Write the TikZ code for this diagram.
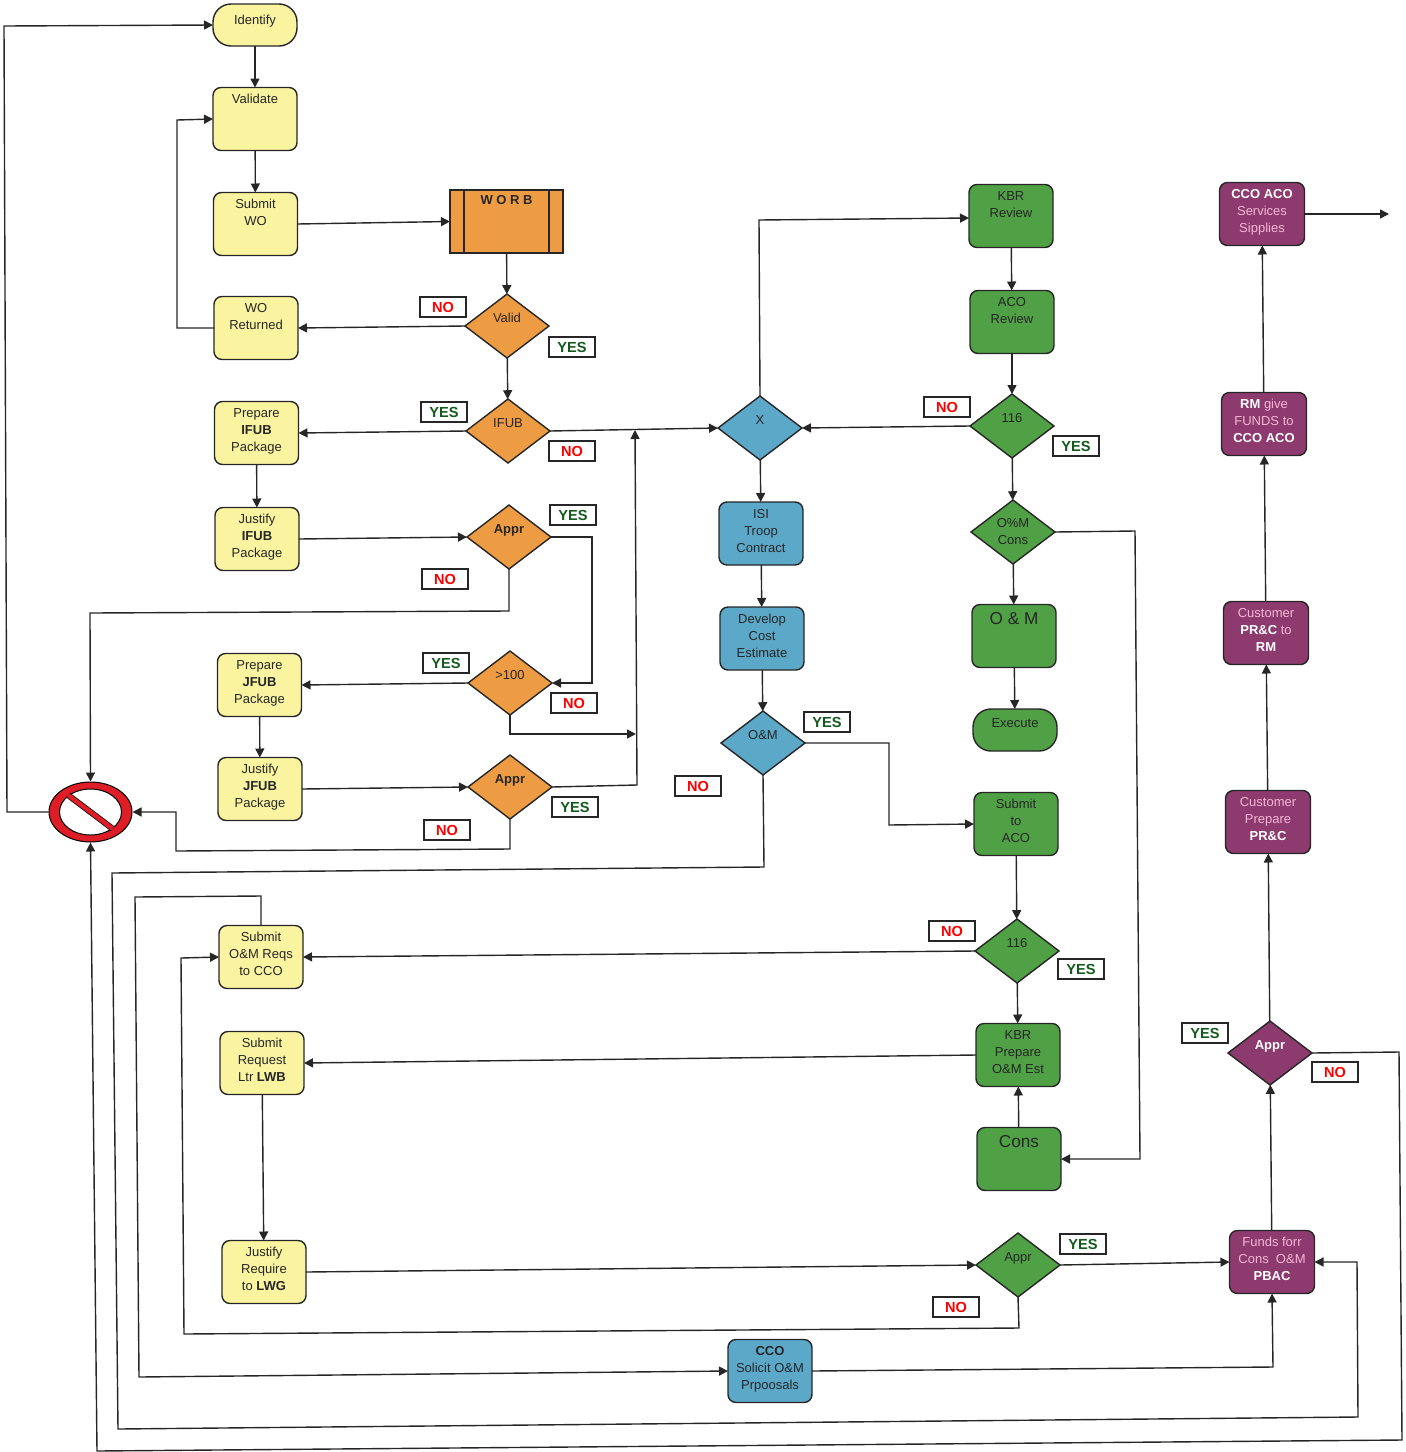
\documentclass[tikz,border=0pt]{standalone}
\usepackage{fontspec}
\setmainfont{Liberation Sans}
\usetikzlibrary{arrows.meta, positioning, shapes.geometric}
\definecolor{boxyellow}{RGB}{250,244,160}
\definecolor{boxorange}{RGB}{238,156,68}
\definecolor{boxblue}{RGB}{92,168,201}
\definecolor{boxgreen}{RGB}{80,160,70}
\definecolor{boxpurple}{RGB}{141,58,111}
\definecolor{textpink}{RGB}{247,182,214}
\definecolor{noentry}{RGB}{222,30,38}
\definecolor{yesgreen}{RGB}{20,90,30}
\begin{document}
\begin{tikzpicture}[
  x=.5pt, y=-.5pt,
  smalltext/.style={font=\fontsize{6.5}{8.5}\selectfont, text=black!85},
  flowbox/.style={rectangle, rounded corners=4pt, draw=black!85, line width=.7pt, inner sep=0pt, outer sep=0pt,
                  minimum width=42pt, minimum height=31.5pt, align=center, smalltext, text depth=3pt},
  pill/.style={flowbox, rounded corners=9pt, minimum height=21pt, text depth=5pt},
  choice/.style={diamond, draw=black!85, line width=.7pt, inner sep=0pt, outer sep=0pt,
                 minimum width=42pt, minimum height=32pt, align=center, smalltext, text depth=8pt},
  yellowbox/.style={flowbox, fill=boxyellow},
  bluebox/.style={flowbox, fill=boxblue},
  greenbox/.style={flowbox, fill=boxgreen},
  purplebox/.style={flowbox, fill=boxpurple, text=textpink, minimum width=42.5pt},
  bigbox/.style={greenbox, font=\fontsize{8.6}{10}\selectfont, text depth=18pt},
  yestag/.style={rectangle, draw=black!85, line width=.6pt, fill=white, minimum width=23pt, minimum height=10pt,
                 inner sep=0pt, font=\fontsize{7.3}{9}\selectfont\bfseries, text=yesgreen},
  notag/.style={yestag, text=red},
  arrow/.style={-{Triangle[length=4.5pt,width=4.5pt]}, line width=.7pt, black!85},
  plain/.style={line width=.7pt, black!85}
]
\useasboundingbox (0,0) rectangle (1405,1452);

\node[pill, fill=boxyellow] (identify) at (255,25) {Identify};
\node[yellowbox] (validate) at (255,119) {Validate\\~\\~};
\node[yellowbox, below=21pt of validate, xshift=.25pt] (submitwo) {Submit\\WO\\~};
\node[yellowbox, below=20.5pt of submitwo, xshift=.25pt] (woreturned) {WO\\Returned\\~};
\node[yellowbox, below=21pt of woreturned, xshift=.25pt] (prepifub) {Prepare\\\textbf{IFUB}\\Package};
\node[yellowbox, below=21.5pt of prepifub, xshift=.25pt] (justifub) {Justify\\\textbf{IFUB}\\Package};
\node[yellowbox] (prepjfub) at (259.5,685) {Prepare\\\textbf{JFUB}\\Package};
\node[yellowbox, below=20.5pt of prepjfub, xshift=.25pt] (justjfub) {Justify\\\textbf{JFUB}\\Package};
\node[yellowbox] (submitom) at (261,957) {Submit\\O\&M Reqs\\to CCO};
\node[yellowbox, below=21.5pt of submitom, xshift=.5pt] (submitreq) {Submit\\Request\\Ltr \textbf{LWB}};
\node[yellowbox, below=73pt of submitreq, xshift=1pt] (justreq) {Justify\\Require\\to \textbf{LWG}};

\node[rectangle, draw=black!85, line width=.7pt, fill=boxorange, inner sep=0pt, outer sep=0pt, minimum width=56.5pt, minimum height=31.5pt,
      font=\fontsize{6.5}{8}\selectfont\bfseries, text=black!85, text depth=22pt] (worb) at (506.5,221.5) {W O R B};
\draw[plain] ([xshift=7pt]worb.north west) -- ([xshift=7pt]worb.south west);
\draw[plain] ([xshift=-7pt]worb.north east) -- ([xshift=-7pt]worb.south east);
\node[choice, fill=boxorange] (valid) at (507,326) {Valid};
\node[choice, fill=boxorange, below=20.5pt of valid, xshift=.5pt] (ifub) {IFUB};
\node[choice, fill=boxorange, below=21pt of ifub, xshift=.5pt] (apprifub) {\textbf{Appr}};
\node[choice, fill=boxorange] (over100) at (510,683) {>100};
\node[choice, fill=boxorange, below=20pt of over100] (apprjfub) {\textbf{Appr}};

\node[choice, fill=boxblue] (xdec) at (760,428) {X};
\node[bluebox, below=21pt of xdec, xshift=.5pt] (troop) {ISI\\Troop\\Contract};
\node[bluebox, below=21pt of troop, xshift=.5pt] (estimate) {Develop\\Cost\\Estimate};
\node[choice, fill=boxblue, below=20.5pt of estimate, xshift=.5pt] (omdec) {O\&M};
\node[bluebox] (solicit) at (770,1371) {\textbf{CCO}\\Solicit O\&M\\Prpoosals};

\node[greenbox] (kbrreview) at (1011,216) {KBR\\Review\\~};
\node[greenbox, below=21.5pt of kbrreview, xshift=.5pt] (acoreview) {ACO\\Review\\~};
\node[choice, fill=boxgreen, below=20.25pt of acoreview] (first116) {116};
\node[choice, fill=boxgreen, below=21pt of first116, xshift=.5pt, text depth=] (omcons) {O\%M\\Cons};
\node[bigbox, below=20.25pt of omcons, xshift=.5pt] (ombox) {O \& M};
\node[pill, fill=boxgreen, below=20.75pt of ombox, xshift=.5pt, text depth=7pt] (execute) {Execute};
\node[greenbox] (submitaco) at (1016,824) {Submit\\to\\ACO};
\node[choice, fill=boxgreen, below=31.75pt of submitaco, xshift=.5pt] (second116) {116};
\node[greenbox, below=20.25pt of second116, xshift=.5pt] (kbrprep) {KBR\\Prepare\\O\&M Est};
\node[bigbox, below=20.5pt of kbrprep, xshift=.5pt] (consbox) {Cons};
\node[choice, fill=boxgreen, below=21.25pt of consbox, xshift=-.5pt] (apprcons) {Appr};

\node[purplebox] (funds) at (1272,1262) {Funds forr\\Cons~~O\&M\\\textcolor{white}{\textbf{PBAC}}};
\node[choice, fill=boxpurple, text=white] (apprpbac) at (1270,1053) {\textbf{Appr}};
\node[purplebox] (prepprc) at (1268,822) {Customer\\Prepare\\\textcolor{white}{\textbf{PR\&C}}};
\node[purplebox, above=63pt of prepprc, xshift=-1pt] (custprc) {Customer\\\textcolor{white}{\textbf{PR\&C}} to\\\textcolor{white}{\textbf{RM}}};
\node[purplebox, above=73pt of custprc, xshift=-1pt] (rmfunds) {\textcolor{white}{\textbf{RM}} give\\FUNDS to\\\textcolor{white}{\textbf{CCO ACO}}};
\node[purplebox, above=73.5pt of rmfunds, xshift=-1pt] (supplies) {\textcolor{white}{\textbf{CCO ACO}}\\Services\\Sipplies};

\node[ellipse, draw=black, fill=noentry, line width=.5pt, minimum width=41.5pt, minimum height=30pt, inner sep=0pt] (stop) at (90.5,812) {};
\node[ellipse, draw=black, fill=white, line width=.5pt, minimum width=31pt, minimum height=23pt, inner sep=0pt] (stopin) at (90.5,812) {};
\draw[black, line width=3pt] (stopin.143) -- (stopin.-37);
\draw[noentry, line width=2.3pt] (stopin.143) -- (stopin.-37);

\coordinate (outend) at (1389,214);
\coordinate (mergejoin) at (635,430);
\coordinate (sidejoin) at (636,734);

\foreach \a/\b in {identify/validate, validate/submitwo, worb/valid, valid/ifub, prepifub/justifub,
                   prepjfub/justjfub, xdec/troop, troop/estimate, estimate/omdec, kbrreview/acoreview, acoreview/first116,
                   first116/omcons, omcons/ombox, ombox/execute, submitaco/second116, second116/kbrprep, consbox/kbrprep,
                   submitreq/justreq, funds/apprpbac, apprpbac/prepprc, prepprc/custprc, custprc/rmfunds, rmfunds/supplies}
  \draw[arrow] (\a) -- (\b);

\draw[arrow] (submitwo.east) -- (worb.west);
\draw[arrow] (valid.west) -- (woreturned.east);
\draw[arrow] (ifub.west) -- (prepifub.east);
\draw[arrow] (justifub.east) -- (apprifub.west);
\draw[arrow] (over100.west) -- (prepjfub.east);
\draw[arrow] (justjfub.east) -- (apprjfub.west);
\draw[arrow] (ifub.east) -- (xdec.west);
\draw[arrow] (first116.west) -- (xdec.east);
\draw[arrow] (second116.west) -- (submitom.east);
\draw[arrow] (kbrprep.west) -- (submitreq.east);
\draw[arrow] (justreq.east) -- (apprcons.west);
\draw[arrow] (apprcons.east) -- (funds.west);
\draw[arrow] (supplies.east) -- (outend);

\draw[arrow] (woreturned.west) -- (177,328) -- (177,120) -- (validate.west);
\draw[arrow] (apprifub.east) -- (592,537) -- (592,683) -- (over100.east);
\draw[arrow] (over100.south) -- (510,734) -- (sidejoin);
\draw[arrow] (apprjfub.east) -- (637,785) -- (mergejoin);
\draw[arrow] (apprifub.south) -- (509,611) -- (90,613) -- (stop.north);
\draw[arrow] (apprjfub.south) -- (510,849) -- (176,851) -- (176,812) -- (stop.east);
\draw[arrow] (stop.west) -- (7,812) -- (4,26) -- (identify.west);
\draw[arrow] (xdec.north) -- (759,220) -- ([yshift=-1pt]kbrreview.west);
\draw[arrow] (omcons.east) -- (1135,531) -- (1140,1159) -- (consbox.east);
\draw[arrow] (omdec.east) -- (889,743) -- (889,825) -- (submitaco.west);
\draw[arrow] (apprcons.south) -- (1019,1328) -- (184,1334) -- (181,958) -- (submitom.west);
\draw[arrow] (submitom.north) -- (261,896) -- (135,897) -- (139,1377) -- (solicit.west);
\draw[arrow] (solicit.east) -- (1273,1367) -- (funds.south);
\draw[arrow] (apprpbac.east) -- (1399,1052) -- (1402,1440) -- (97,1451) -- (stop.south);
\draw[arrow] (omdec.south) -- (764,867) -- (112,873) -- (118,1429) -- (1358,1417) -- (1357,1262) -- (funds.east);

\foreach \n/\x/\y in {1/572/347, 2/444/412, 3/573/515, 4/446/663, 5/575/807, 6/827/722, 7/1076/446, 8/1081/969, 9/1205/1033, 10/1083/1244}
  \node[yestag] (yes\n) at (\x,\y) {YES};
\foreach \n/\x/\y in {1/443/307, 2/572/451, 3/445/579, 4/574/703, 5/447/830, 6/698/786, 7/947/407, 8/952/931, 9/1335/1072, 10/956/1307}
  \node[notag] (no\n) at (\x,\y) {NO};
\end{tikzpicture}
\end{document}
